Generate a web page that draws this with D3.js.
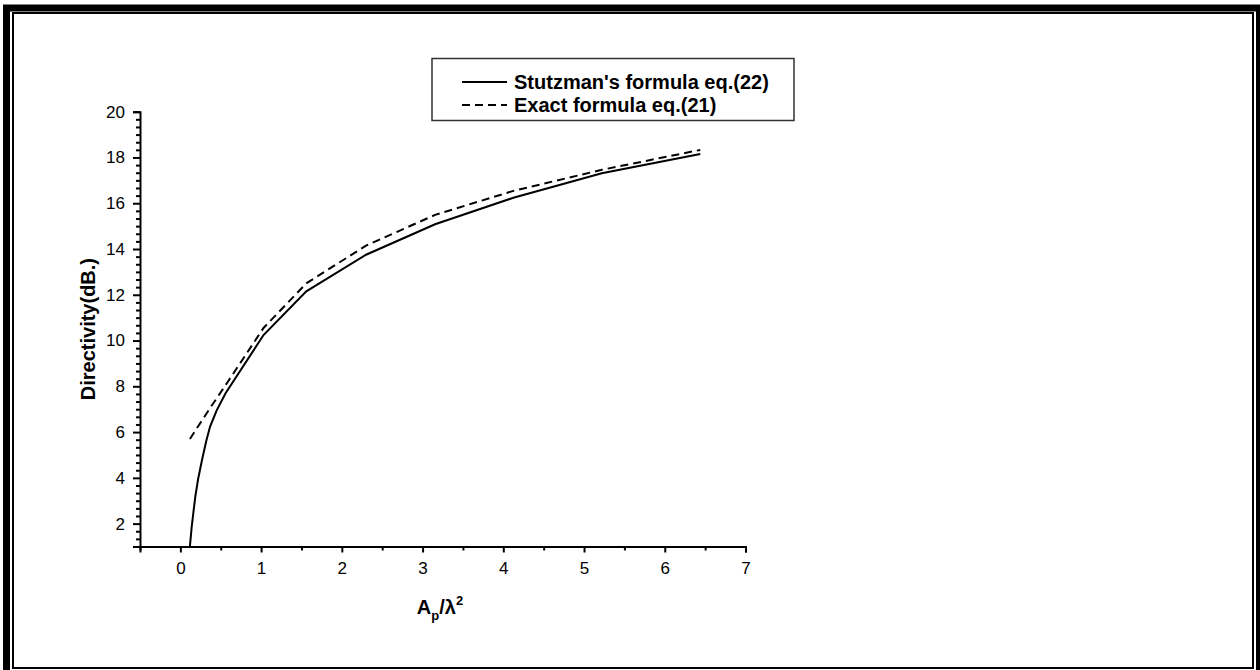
<!DOCTYPE html>
<html>
<head>
<meta charset="utf-8">
<script src="https://cdn.jsdelivr.net/npm/d3@7"></script>
<style>
  body { margin: 0; background: #fff; }
  svg { display: block; font-family: "Liberation Sans", Arial, sans-serif; }
</style>
</head>
<body>
<div id="chart-area"></div>
<script>
// Stutzman's formula eq.(22) - solid line
const stutzX = [0.118, 0.14, 0.16, 0.185, 0.22, 0.268, 0.32, 0.368, 0.45, 0.56, 1.03, 1.56, 2.3, 3.155, 4.125, 5.22, 6.44];
const stutzY = [1.0, 1.85, 2.45, 3.18, 3.95, 4.78, 5.6, 6.24, 6.95, 7.7, 10.24, 12.15, 13.75, 15.08, 16.24, 17.31, 18.15];

// Exact formula eq.(21) - dashed line
const exactX = [0.118, 0.368, 0.56, 1.03, 1.56, 2.3, 3.155, 4.125, 5.22, 6.44];
const exactY = [5.7, 7.05, 8.05, 10.55, 12.5, 14.15, 15.49, 16.54, 17.46, 18.33];

const xTicks = [0, 1, 2, 3, 4, 5, 6, 7];
const yTicks = [2, 4, 6, 8, 10, 12, 14, 16, 18, 20];
const legendLabels = ["Stutzman's formula eq.(22)", "Exact formula eq.(21)"];

const full_width = 1260, full_height = 670;

const svg = d3.select("#chart-area").append("svg")
    .attr("width", full_width)
    .attr("height", full_height);

// frame: thick outer, thin inner
svg.append("rect")
    .attr("x", 6.5).attr("y", 8)
    .attr("width", 1253).attr("height", 666)
    .attr("fill", "none").attr("stroke", "#000").attr("stroke-width", 7);
svg.append("rect")
    .attr("x", 13).attr("y", 13)
    .attr("width", 1240).attr("height", 655)
    .attr("fill", "none").attr("stroke", "#000").attr("stroke-width", 2);

const x = d3.scaleLinear().domain([-0.5, 7]).range([140, 745.5]);
const y = d3.scaleLinear().domain([1, 20]).range([546.5, 111.7]);

// Y axis
const yAxisCall = d3.axisLeft(y).tickValues(yTicks).tickSize(7).tickPadding(8).tickFormat(d => d);
svg.append("g")
    .attr("class", "y-axis")
    .attr("transform", "translate(" + x(-0.5) + ",0)")
    .call(yAxisCall);

// minor ticks every 1/3 between the labelled ones
const yMinor = d3.range(-3, 55).map(k => 2 + k / 3)
    .filter(v => v >= 1 && v <= 20 && !yTicks.some(t => Math.abs(t - v) < 0.01));
svg.append("g")
    .attr("class", "y-minor")
    .attr("transform", "translate(" + x(-0.5) + ",0)")
    .call(d3.axisLeft(y).tickValues(yMinor).tickSize(4).tickFormat(""))
    .select(".domain").remove();

// X axis
const xAxisCall = d3.axisBottom(x).tickValues(xTicks).tickSize(6).tickPadding(9).tickFormat(d => d);
svg.append("g")
    .attr("class", "x-axis")
    .attr("transform", "translate(0," + y(1) + ")")
    .call(xAxisCall);

const xMinor = d3.range(-0.5, 7, 1);
svg.append("g")
    .attr("class", "x-minor")
    .attr("transform", "translate(0," + y(1) + ")")
    .call(d3.axisBottom(x).tickValues(xMinor).tickSize(4).tickFormat(""))
    .select(".domain").remove();

svg.selectAll(".domain").attr("stroke-width", 2).attr("stroke", "#000");
svg.selectAll(".tick line").attr("stroke-width", 2).attr("stroke", "#000");
svg.selectAll(".x-axis text, .y-axis text")
    .attr("font-size", "17px")
    .attr("font-family", "Liberation Sans, Arial, sans-serif")
    .attr("fill", "#000");

// curves
const line = d3.line().x(d => x(d[0])).y(d => y(d[1]));

svg.append("path")
    .datum(d3.zip(stutzX, stutzY))
    .attr("fill", "none")
    .attr("stroke", "#000")
    .attr("stroke-width", 2)
    .attr("d", line);

svg.append("path")
    .datum(d3.zip(exactX, exactY))
    .attr("fill", "none")
    .attr("stroke", "#000")
    .attr("stroke-width", 2)
    .attr("stroke-dasharray", "8,5")
    .attr("d", line);

// Y Label
svg.append("text")
    .attr("x", -(y(1) + y(20)) / 2)
    .attr("y", 95)
    .attr("font-size", "20px")
    .attr("font-weight", "bold")
    .attr("text-anchor", "middle")
    .attr("transform", "rotate(-90)")
    .text("Directivity(dB.)");

// X Label
const xl = svg.append("text")
    .attr("x", 440)
    .attr("y", 614)
    .attr("font-size", "20px")
    .attr("font-weight", "bold")
    .attr("text-anchor", "middle");
xl.append("tspan").text("A");
xl.append("tspan").attr("font-size", "13px").attr("dy", 6).text("p");
xl.append("tspan").attr("dy", -6).text("/λ");
xl.append("tspan").attr("font-size", "13px").attr("dy", -9).text("2");

// Legend
const legend = svg.append("g").attr("class", "legend");
legend.append("rect")
    .attr("x", 432).attr("y", 58.5)
    .attr("width", 362).attr("height", 62)
    .attr("fill", "#fff").attr("stroke", "#333").attr("stroke-width", 1.5);

legendLabels.forEach((lab, i) => {
    const ly = 82 + i * 23;
    legend.append("line")
        .attr("x1", 462).attr("x2", 507)
        .attr("y1", ly).attr("y2", ly)
        .attr("stroke", "#000").attr("stroke-width", 2)
        .attr("stroke-dasharray", i === 1 ? "8,5" : null);
    legend.append("text")
        .attr("x", 514).attr("y", ly + 7)
        .attr("font-size", "20px")
        .attr("font-weight", "bold")
        .text(lab);
});
</script>
</body>
</html>
